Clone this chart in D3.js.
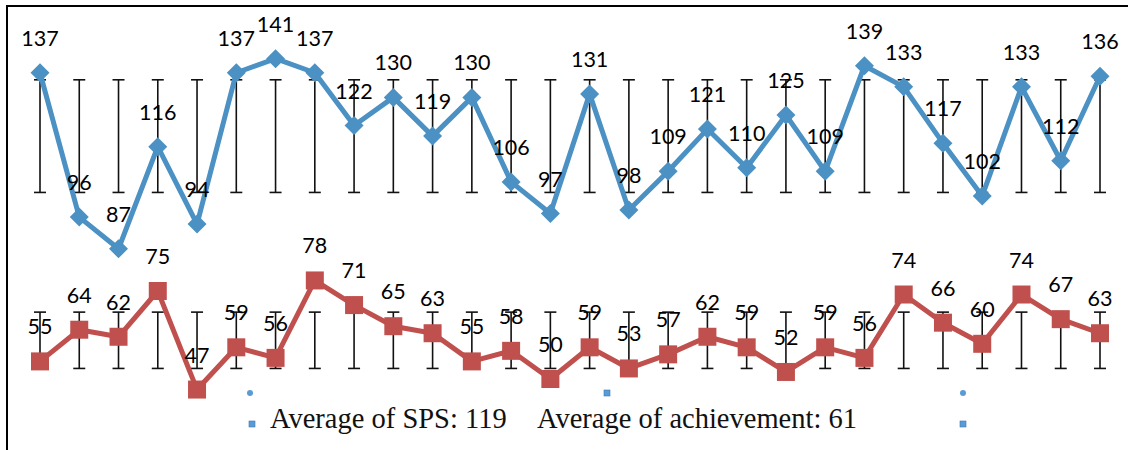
<!DOCTYPE html>
<html>
<head>
<meta charset="utf-8">
<script src="https://cdn.jsdelivr.net/npm/d3@7"></script>
<style>
  html, body { margin: 0; padding: 0; background: #fff; }
  svg { display: block; }
  .lbl { font-family: Lato, "Open Sans", sans-serif; font-size: 21.5px; fill: #000; }
  .legend-text { font-family: "Liberation Serif", "Times New Roman", serif; font-size: 28.5px; fill: #111; }
</style>
</head>
<body>
<div class="chart"></div>
<script>
// Data ------------------------------------------------------------------------------------------
const sps = [137, 96, 87, 116, 94, 137, 141, 137, 122, 130, 119, 130, 106, 97,
             131, 98, 109, 121, 110, 125, 109, 139, 133, 117, 102, 133, 112, 136];
const achievement = [55, 64, 62, 75, 47, 59, 56, 78, 71, 65, 63, 55, 58, 50,
                     59, 53, 57, 62, 59, 52, 59, 56, 74, 66, 60, 74, 67, 63];
// average +/- standard deviation (error bars)
const spsMean = 119, spsSD = 16;
const achMean = 61, achSD = 8;
const legendLabels = ["Average of SPS: 119", "Average of achievement: 61"];

// Dimensions ------------------------------------------------------------------------------------
const width = 1128, height = 450;
const blue = "#4b91c3", red = "#c0504d";

const svg = d3.select(".chart").append("svg")
  .attr("width", width)
  .attr("height", height);

// Frame
svg.append("path")
  .attr("d", `M7,${height} L7,6 L${width},6`)
  .attr("fill", "none")
  .attr("stroke", "#000")
  .attr("stroke-width", 2);

// Scales ----------------------------------------------------------------------------------------
const x = d3.scalePoint()
  .domain(d3.range(sps.length))
  .range([40, 1100]);

const y = d3.scaleLinear()
  .domain([0, 150])
  .range([555, 27]);

// Error bars ------------------------------------------------------------------------------------
const drawErrorBars = (mean, sd) => {
  const g = svg.append("g").attr("stroke", "#111").attr("stroke-width", 1.6);
  d3.range(sps.length).forEach(i => {
    const cx = x(i), top = y(mean + sd), bot = y(mean - sd);
    g.append("line").attr("x1", cx).attr("x2", cx).attr("y1", top).attr("y2", bot);
    g.append("line").attr("x1", cx - 6).attr("x2", cx + 6).attr("y1", top).attr("y2", top);
    g.append("line").attr("x1", cx - 6).attr("x2", cx + 6).attr("y1", bot).attr("y2", bot);
  });
};
drawErrorBars(spsMean, spsSD);
drawErrorBars(achMean, achSD);

// Lines -----------------------------------------------------------------------------------------
const line = d3.line()
  .x((d, i) => x(i))
  .y(d => y(d));

svg.append("path")
  .datum(sps)
  .attr("d", line)
  .attr("fill", "none")
  .attr("stroke", blue)
  .attr("stroke-width", 5)
  .attr("stroke-linejoin", "round");

svg.append("path")
  .datum(achievement)
  .attr("d", line)
  .attr("fill", "none")
  .attr("stroke", red)
  .attr("stroke-width", 5)
  .attr("stroke-linejoin", "round");

// Markers
svg.selectAll(".diamond")
  .data(sps)
  .join("path")
  .attr("class", "diamond")
  .attr("d", d3.symbol(d3.symbolDiamond2, 230))
  .attr("transform", (d, i) => `translate(${x(i)},${y(d)})`)
  .attr("fill", blue);

svg.selectAll(".square")
  .data(achievement)
  .join("rect")
  .attr("class", "square")
  .attr("x", (d, i) => x(i) - 9)
  .attr("y", d => y(d) - 9)
  .attr("width", 18)
  .attr("height", 18)
  .attr("fill", red);

// Data labels -----------------------------------------------------------------------------------
const drawLabels = values => {
  svg.append("g").selectAll("text")
    .data(values)
    .join("text")
    .attr("class", "lbl")
    .attr("x", (d, i) => x(i))
    .attr("y", d => y(d) - 27)
    .attr("text-anchor", "middle")
    .text(d => d);
};
drawLabels(sps);
drawLabels(achievement);

// Legend ----------------------------------------------------------------------------------------
const legendBlue = "#5b9bd5";
[[250, 393], [963, 393]].forEach(([cx, cy]) => {
  svg.append("circle").attr("cx", cx).attr("cy", cy).attr("r", 3).attr("fill", legendBlue);
});
[[252, 424], [607, 393], [963, 424]].forEach(([cx, cy]) => {
  svg.append("rect").attr("x", cx - 3).attr("y", cy - 3).attr("width", 6).attr("height", 6)
    .attr("fill", legendBlue).attr("stroke", "#3a78b5").attr("stroke-width", 0.6);
});

svg.append("text")
  .attr("class", "legend-text")
  .attr("x", 270)
  .attr("y", 428)
  .text(legendLabels[0]);

svg.append("text")
  .attr("class", "legend-text")
  .attr("x", 537)
  .attr("y", 428)
  .text(legendLabels[1]);
</script>
</body>
</html>
